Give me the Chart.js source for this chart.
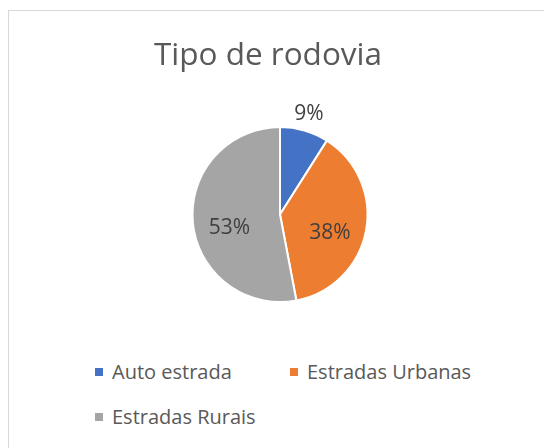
<!DOCTYPE html>
<html>
<head>
<meta charset="utf-8">
<script src="https://cdn.jsdelivr.net/npm/chart.js@4/dist/chart.umd.min.js"></script>
<style>
  body { margin: 0; width: 544px; height: 448px; overflow: hidden; background: #fff; font-family: "Open Sans", sans-serif; }
  #moldura { position: absolute; left: 8px; top: 10px; width: 600px; height: 500px; border: 1px solid #d9d9d9; }
  #titulo { position: absolute; left: 8px; top: 37px; width: 520px; text-align: center; color: #595959; font-size: 31.5px; line-height: 31.5px; }
  #area { position: absolute; left: 8px; top: 10px; width: 520px; height: 330px; }
  #legenda { position: absolute; left: 95px; top: 358px; width: 420px; display: flex; flex-wrap: wrap; }
  .item { width: 195px; height: 45px; display: flex; align-items: flex-start; color: #595959; font-size: 20px; line-height: 28px; }
  .caixa { width: 8px; height: 8px; margin: 10px 9px 0 0; flex: none; }
</style>
</head>
<body>
<div id="moldura"></div>
<div id="area"><canvas id="grafico" width="520" height="330"></canvas></div>
<div id="titulo"></div>
<div id="legenda"></div>
<script>
const titulo = "Tipo de rodovia";
const categorias = ["Auto estrada", "Estradas Urbanas", "Estradas Rurais"];
const valores = [9, 38, 53];
const cores = ["#4472C4", "#ED7D31", "#A5A5A5"];

const rotulosPizza = {
  id: "rotulosPizza",
  afterDatasetsDraw(chart) {
    const ctx = chart.ctx;
    const meta = chart.getDatasetMeta(0);
    const total = valores.reduce((a, b) => a + b, 0);

    ctx.save();
    ctx.font = "21px 'Open Sans'";
    ctx.fillStyle = "#404040";
    ctx.textAlign = "center";
    ctx.textBaseline = "middle";

    meta.data.forEach((arco, i) => {
      const p = arco.getProps(["x", "y", "startAngle", "endAngle", "outerRadius"], true);
      const meio = (p.startAngle + p.endAngle) / 2;
      const pct = valores[i] / total;
      let r, dy;
      if (pct < 0.15) {
        r = p.outerRadius + 16;
        dy = -1;
      } else {
        r = p.outerRadius * 0.58;
        dy = 9;
      }
      const x = p.x + Math.cos(meio) * r;
      const y = p.y + Math.sin(meio) * r + dy;
      ctx.fillText(Math.round(pct * 100) + "%", x, y);
    });
    ctx.restore();
  }
};

new Chart(document.getElementById("grafico"), {
  type: "pie",
  data: {
    labels: categorias,
    datasets: [
      {
        data: valores,
        backgroundColor: cores,
        borderColor: "#ffffff",
        borderWidth: 2
      }
    ]
  },
  options: {
    responsive: false,
    animation: false,
    layout: { padding: { left: 24, right: 0, top: 116, bottom: 37 } },
    plugins: {
      legend: { display: false },
      tooltip: { enabled: false },
      title: { display: false }
    }
  },
  plugins: [rotulosPizza]
});

function montarLegenda() {
  const div = document.getElementById("legenda");
  div.innerHTML = "";
  categorias.forEach((nome, i) => {
    div.innerHTML += `
      <div class="item">
        <span class="caixa" style="background:${cores[i]}"></span>
        <span>${nome}</span>
      </div>
    `;
  });
}

document.getElementById("titulo").textContent = titulo;
montarLegenda();
</script>
</body>
</html>
